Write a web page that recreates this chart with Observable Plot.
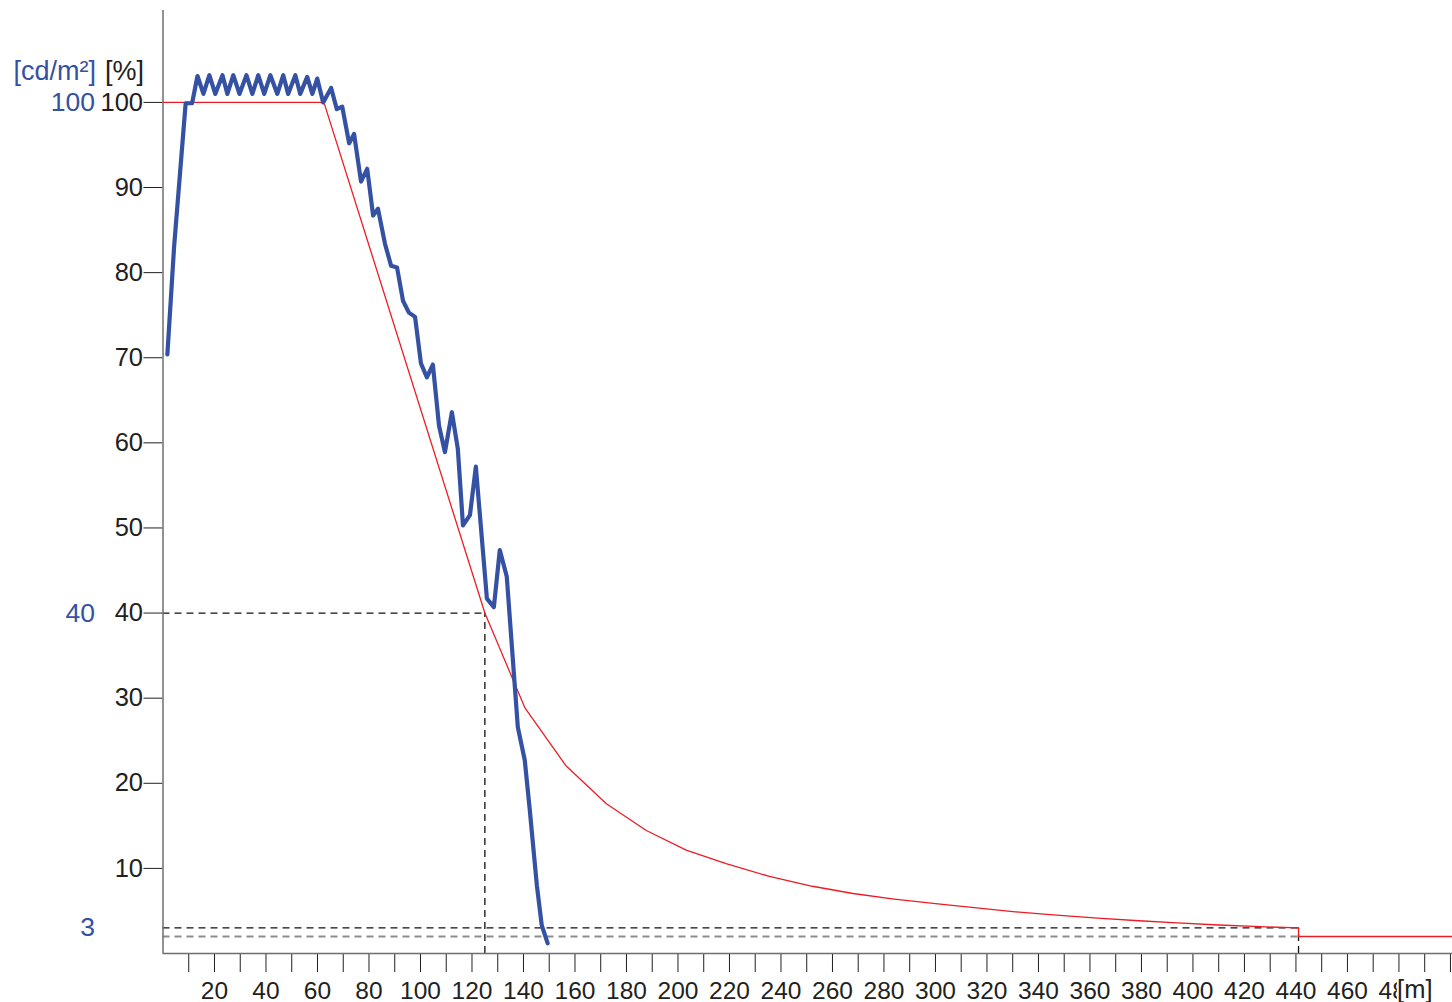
<!DOCTYPE html>
<html><head><meta charset="utf-8">
<script src="https://cdn.jsdelivr.net/npm/d3@7"></script>
<script src="https://cdn.jsdelivr.net/npm/@observablehq/plot@0.6"></script>
<style>html,body{margin:0;padding:0;background:#fff}</style>
</head><body><div id="chart"></div>
<script>
// Required luminance curve (red), in % of threshold luminance, vs distance [m]
const redX = [0, 62.5, 125, 140.5, 156.4, 172.2, 187.7, 203.2, 218.7, 235.5, 252.2, 268, 284, 300, 316, 331, 347, 363, 379, 394, 410, 426, 441, 441, 500.8];
const redY = [100, 100, 40, 28.9, 22.1, 17.6, 14.45, 12.15, 10.55, 9.05, 7.9, 7.05, 6.4, 5.85, 5.35, 4.9, 4.5, 4.15, 3.85, 3.6, 3.35, 3.15, 3.0, 2.0, 2.0];

// Measured luminance (blue)
const blueX = [1.7, 4.3, 8.8, 11.3, 13.4, 15.7, 18.0, 20.3, 23.1, 25.0, 27.3, 29.7, 32.4, 34.7, 37.0, 39.3, 41.7, 44.4, 46.7, 48.6, 51.4, 53.3, 56.0, 58.0, 59.9, 62.2, 65.3, 67.5, 69.6, 72.3, 74.2, 76.9, 79.3, 81.6, 83.5, 86.2, 88.6, 90.9, 93.2, 95.5, 97.9, 100.2, 102.5, 104.8, 107.2, 109.5, 112.2, 114.5, 116.5, 119.2, 121.5, 125.8, 128.5, 130.8, 133.5, 137.8, 140.5, 142.4, 145.2, 147.1, 149.4];
const blueY = [70.4, 83.0, 99.9, 99.9, 103.1, 101.0, 103.2, 101.0, 103.2, 101.0, 103.2, 101.0, 103.2, 101.0, 103.2, 101.0, 103.2, 101.0, 103.2, 101.0, 103.2, 101.0, 103.0, 101.0, 102.8, 100.0, 101.7, 99.2, 99.5, 95.2, 96.3, 90.7, 92.2, 86.7, 87.5, 83.4, 80.8, 80.6, 76.7, 75.3, 74.8, 69.3, 67.7, 69.2, 62.0, 58.9, 63.6, 59.3, 50.3, 51.5, 57.2, 41.7, 40.7, 47.4, 44.3, 26.6, 22.7, 17.0, 8.0, 3.3, 1.2];

// Guide lines
const guideX = [125, 441];
const guideY = [40, 3];
const minLevel = [2];

// Ticks and labels
const xTicks = d3.range(10, 501, 10);
const yTicks = d3.range(10, 101, 10);
const blueLabels = [100, 40, 3];
const unitBlue = ["[cd/m²]"];
const unitBlack = ["[%]"];
const unitX = ["[m]"];

const red = redX.map((x, i) => ({x, y: redY[i]}));
const blue = blueX.map((x, i) => ({x, y: blueY[i]}));

const ink = "#231f20";
const blueC = "#3551a4";
const axisC = "#6d6e71";
const font = "'Liberation Sans', Arial, Helvetica, sans-serif";
const yTop = 110.8;
const xEnd = 500.8;

const chart = Plot.plot({
  width: 1452,
  height: 1002,
  marginLeft: 162.5,
  marginRight: 0,
  marginTop: 10,
  marginBottom: 49,
  x: {domain: [0, xEnd], label: null},
  y: {domain: [0, yTop], label: null},
  style: {fontFamily: font, background: "#fff", overflow: "visible"},
  marks: [
    // dashed guides
    Plot.ruleY(guideY, {y: d => d, x1: 0, x2: (d, i) => guideX[i], stroke: "#111", strokeWidth: 1.3, strokeDasharray: "7,5"}),
    Plot.ruleX(guideX, {x: d => d, y1: 0, y2: (d, i) => guideY[i], stroke: "#111", strokeWidth: 1.3, strokeDasharray: "7,5"}),
    Plot.ruleY(minLevel, {y: d => d, x1: 0, x2: guideX[1], stroke: "#8c8c8c", strokeWidth: 2, strokeDasharray: "7,5"}),
    // axes
    Plot.axisX({ticks: xTicks, tickSize: 19, tickPadding: 9, label: null,
      tickFormat: d => (d % 20 === 0 && d < 500) ? String(d) : "",
      fontSize: 24.5, stroke: ink, fill: ink}),
    Plot.axisY({ticks: yTicks, tickSize: 19, tickPadding: 1, label: null,
      fontSize: 25.5, stroke: ink, fill: ink}),
    Plot.ruleX([0], {y1: 0, y2: yTop, stroke: axisC, strokeWidth: 1.5}),
    Plot.ruleY([0], {x1: 0, x2: xEnd, stroke: axisC, strokeWidth: 1.5}),
    // curves
    Plot.line(red, {x: "x", y: "y", stroke: "#ed1c24", strokeWidth: 1.3}),
    Plot.line(blue, {x: "x", y: "y", stroke: blueC, strokeWidth: 4.2, strokeLinejoin: "round", strokeLinecap: "round"}),
    // blue value labels
    Plot.text(blueLabels, {x: 0, y: d => d, text: d => String(d), dx: -68, textAnchor: "end", fill: blueC, fontSize: 26.5}),
    // unit labels
    Plot.text(unitBlue, {x: 0, y: 103.6, text: d => d, dx: -67, textAnchor: "end", fill: blueC, fontSize: 27}),
    Plot.text(unitBlack, {x: 0, y: 103.6, text: d => d, dx: -19, textAnchor: "end", fill: ink, fontSize: 27}),
    Plot.rect([0], {x1: 479.4, x2: xEnd, y1: -2.6, y2: -5.8, fill: "#fff"}),
    Plot.text(unitX, {x: xEnd, y: 0, text: d => d, dx: -20, dy: 36, textAnchor: "end", fill: ink, fontSize: 25.5})
  ]
});
document.getElementById("chart").appendChild(chart);
</script>
</body></html>
